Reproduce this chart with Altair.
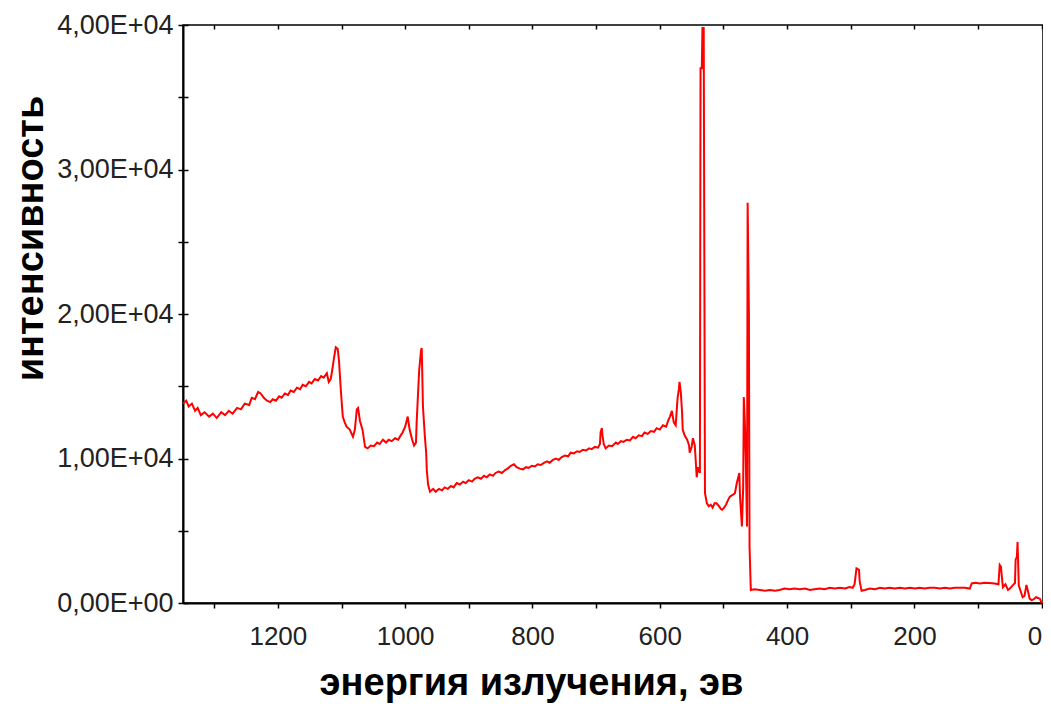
import altair as alt
import pandas as pd

# Binding energy (eV)
energy_ev = [
    1349, 1344, 1340, 1335, 1330, 1326, 1321, 1315, 1308, 1302, 1296, 1289, 1283, 1277, 1271, 1264,
    1258, 1252, 1245, 1241, 1236, 1231, 1227, 1222, 1217, 1212, 1208, 1203, 1198, 1194, 1189, 1184,
    1180, 1175, 1170, 1165, 1161, 1156, 1151, 1147, 1142, 1137, 1132, 1128, 1123, 1120, 1117, 1115,
    1112, 1109, 1106, 1104, 1101, 1098, 1095, 1092, 1087, 1082, 1079, 1076, 1074, 1071, 1067, 1063,
    1059, 1054, 1049, 1044, 1040, 1035, 1030, 1026, 1021, 1016, 1011, 1007, 1004, 1000, 996, 993,
    989, 986, 983, 982, 978, 975, 974, 972, 969, 967, 966, 964, 961, 956, 952, 947,
    942, 938, 933, 928, 924, 919, 914, 909, 905, 900, 895, 891, 886, 881, 876, 872,
    867, 862, 858, 853, 848, 843, 839, 834, 829, 825, 820, 815, 810, 806, 801, 796,
    792, 787, 782, 777, 773, 768, 763, 759, 754, 749, 744, 740, 735, 730, 726, 721,
    716, 711, 707, 702, 697, 694, 693, 691, 690, 688, 685, 680, 675, 669, 666, 661,
    657, 652, 647, 642, 638, 633, 628, 624, 619, 614, 609, 605, 600, 595, 590, 587,
    584, 581, 578, 575, 573, 572, 570, 569, 567, 565, 564, 561, 557, 554, 553, 550,
    548, 545, 542, 540, 537, 536, 534, 533, 531, 529, 526, 523, 520, 517, 514, 511,
    507, 504, 502, 499, 496, 493, 490, 485, 482, 479, 475, 474, 471, 469, 468, 466,
    465, 463, 462, 460, 459, 457, 451, 443, 435, 427, 419, 412, 404, 396, 388, 380,
    372, 364, 357, 349, 341, 333, 325, 317, 309, 302, 297, 294, 291, 287, 286, 283,
    278, 270, 262, 254, 247, 239, 231, 223, 215, 207, 199, 192, 184, 176, 168, 160,
    152, 144, 137, 129, 121, 113, 110, 104, 97, 90, 82, 74, 68, 66, 64, 63,
    61, 57, 53, 50, 46, 42, 41, 39, 38, 36, 33, 30, 27, 24, 22, 19,
    16, 13, 9, 6, 3, 0, -3, -8,
]

# Intensity (counts)
intensity = [
    13800, 14000, 13600, 13800, 13300, 13500, 13000, 13200, 12900, 13100, 12800, 13200, 13000, 13300, 13100, 13500,
    13400, 13800, 13700, 14200, 14100, 14600, 14500, 14200, 14000, 13900, 14100, 14000, 14300, 14200, 14500, 14400,
    14700, 14600, 14900, 14800, 15100, 15000, 15300, 15200, 15500, 15400, 15700, 15600, 15900, 15300, 15500, 16000,
    16900, 17700, 17600, 16800, 14700, 12900, 12500, 12200, 12000, 11500, 12000, 13400, 13500, 12600, 12000, 10800,
    10700, 10900, 10850, 11100, 11000, 11300, 11100, 11300, 11200, 11400, 11300, 11600, 11800, 12200, 12900, 12000,
    11300, 10900, 11100, 12450, 16100, 17500, 17650, 13550, 11500, 10400, 9200, 8200, 7700, 7900, 7700, 7900,
    7800, 8000, 7900, 8100, 8000, 8300, 8200, 8400, 8300, 8500, 8400, 8600, 8700, 8600, 8800, 8700,
    8900, 8800, 9000, 9100, 9000, 9200, 9300, 9500, 9600, 9400, 9300, 9250, 9400, 9350, 9500, 9450,
    9600, 9550, 9700, 9800, 9700, 9900, 10000, 9900, 10100, 10200, 10150, 10400, 10350, 10500, 10450, 10600,
    10550, 10700, 10650, 10800, 10750, 11000, 11800, 12100, 11600, 11000, 10700, 10900, 10850, 11100, 11000, 11200,
    11150, 11300, 11250, 11500, 11400, 11600, 11550, 11800, 11700, 11900, 11850, 12100, 12000, 12300, 12200, 12600,
    12900, 13300, 12500, 12300, 13600, 14200, 14800, 15300, 14600, 13200, 12000, 11600, 11300, 10900, 10400, 10800,
    11400, 10900, 8700, 9400, 9000, 37000, 37000, 39800, 39800, 7600, 6900, 6700, 6800, 6600, 6900, 6900,
    6700, 6500, 6450, 6600, 6800, 7100, 7350, 7500, 7600, 8300, 9000, 7400, 5300, 8000, 14250, 12000,
    10100, 5300, 27700, 20000, 3900, 900, 950, 900, 850, 900, 850, 900, 1000, 950, 1000, 950,
    1000, 900, 950, 1000, 950, 1050, 1000, 1050, 1000, 1100, 1050, 1300, 2400, 2300, 1500, 850,
    900, 1000, 950, 1050, 1000, 1050, 1000, 1050, 1000, 1050, 1000, 1050, 1000, 1050, 1050, 1000,
    1050, 1000, 1050, 1050, 1050, 1000, 1350, 1400, 1350, 1400, 1380, 1350, 1300, 2630, 2500, 2000,
    1100, 1300, 900, 1000, 1200, 1380, 3000, 3200, 4220, 1200, 800, 400, 500, 1250, 900, 300,
    200, 250, 400, 350, 300, 0, 50, 0,
]

x_tick_values = [0, 100, 200, 300, 400, 500, 600, 700, 800, 900, 1000, 1100, 1200, 1300]
y_tick_values = [0, 5000, 10000, 15000, 20000, 25000, 30000, 35000, 40000]
y_tick_labels = ["0,00E+00", "", "1,00E+04", "", "2,00E+04", "", "3,00E+04", "", "4,00E+04"]

df = pd.DataFrame({"energy": energy_ev, "intensity": intensity})

y_label_expr = "[" + ",".join("'" + s + "'" for s in y_tick_labels) + "][round(datum.value / 5000)]"
x_label_expr = "datum.value % 200 == 0 ? datum.label : ''"

FONT = "Liberation Sans"

chart = (
    alt.Chart(df)
    .mark_line(color="#ff0000", strokeWidth=2, clip=True)
    .encode(
        x=alt.X(
            "energy:Q",
            scale=alt.Scale(domain=[1349, -2], nice=False, zero=False),
            axis=alt.Axis(
                values=x_tick_values,
                labelExpr=x_label_expr,
                format="d",
                title="энергия излучения, эв",
                titleFont=FONT,
                titleFontSize=38,
                titleFontWeight="bold",
                titleColor="#000000",
                titleX=348,
                titleY=91,
                titleAlign="center",
                titleBaseline="alphabetic",
                labelFont=FONT,
                labelFontSize=26,
                labelColor="#222222",
                labelPadding=15,
                labelFlush=False,
                labelOverlap=False,
                labelAlign={"condition": {"test": "datum.value == 0", "value": "right"}, "value": "center"},
                tickSize=5,
                tickWidth=1.5,
                tickColor="#000000",
                domainColor="#000000",
                domainWidth=2,
                grid=True,
                gridColor="#000000",
                gridWidth=1.5,
                gridDash=[4, 3000],
            ),
        ),
        y=alt.Y(
            "intensity:Q",
            scale=alt.Scale(domain=[0, 40000], nice=False),
            axis=alt.Axis(
                values=y_tick_values,
                labelExpr=y_label_expr,
                title="интенсивность",
                titleFont=FONT,
                titleFontSize=38,
                titleFontWeight="bold",
                titleColor="#000000",
                titleX=-152,
                titleY=213,
                titleAngle=-90,
                titleAlign="center",
                titleBaseline="middle",
                labelFont=FONT,
                labelFontSize=27,
                labelColor="#222222",
                labelPadding=5,
                labelFlush=False,
                labelOverlap=False,
                tickSize=5,
                tickWidth=1.5,
                tickColor="#000000",
                domainColor="#000000",
                domainWidth=2,
                grid=True,
                gridColor="#000000",
                gridWidth=1.5,
                gridDash=[5, 3000],
            ),
        ),
    )
    .properties(
        width=860,
        height=578,
        autosize=alt.AutoSizeParams(type="none"),
        padding={"left": 175, "top": 17, "right": 0, "bottom": 100},
        background="#ffffff",
    )
    .configure_view(stroke="#000000", strokeWidth=1.5)
)

chart.save("out.html", embed_options={"renderer": "svg", "actions": False})
